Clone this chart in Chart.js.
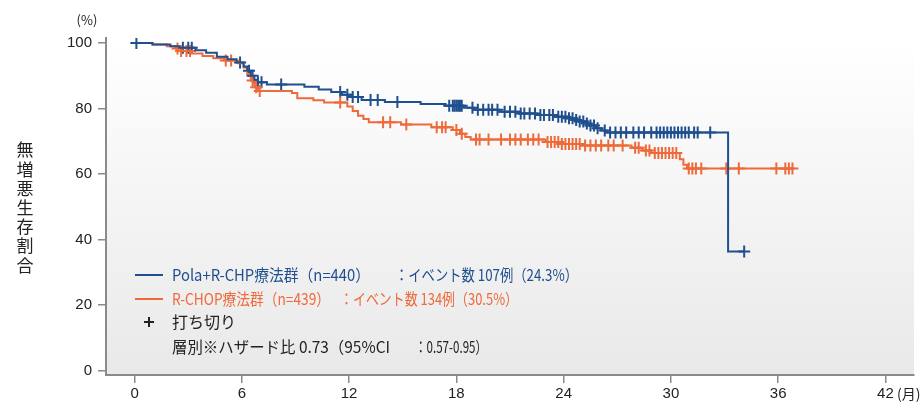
<!DOCTYPE html>
<html lang="ja">
<head>
<meta charset="utf-8">
<script src="https://cdn.jsdelivr.net/npm/chart.js@4.4.1/dist/chart.umd.min.js"></script>
<style>
  html, body { margin: 0; padding: 0; background: #fff; }
</style>
</head>
<body>
<canvas id="pfsChart" width="922" height="408"></canvas>
<script>
// Kaplan-Meier steps (months, % surviving)
const polaTimes = [0, 1.0, 2.0, 2.5, 3.4, 4.0, 4.6, 5.2, 5.7, 6.1, 6.3, 6.5, 6.7, 6.9, 7.4, 9.5, 10.3, 11.0, 11.6, 12.1, 12.7, 14.0, 16.0, 17.4, 18.4, 19.0, 20.4, 21.5, 22.5, 23.5, 24.2, 24.6, 24.9, 25.2, 25.5, 25.8, 26.1, 26.4, 33.2, 34.1];
const polaSurv  = [100, 99.5, 99.0, 98.5, 97.8, 97.0, 95.8, 95.0, 94.0, 92.8, 91.5, 90.0, 88.8, 88.0, 87.3, 86.6, 85.8, 85.0, 84.2, 83.5, 82.6, 82.0, 81.4, 80.8, 80.2, 79.6, 79.0, 78.5, 78.0, 77.5, 77.0, 76.5, 76.0, 75.4, 74.8, 74.0, 73.3, 72.7, 36.4, 36.4];
const polaCensor = [0.1, 2.7, 3.0, 3.2, 5.9, 6.4, 6.6, 6.9, 7.1, 8.2, 11.5, 11.9, 12.2, 12.5, 13.2, 13.6, 14.7, 17.6, 17.8, 17.9, 18.0, 18.1, 18.2, 18.3, 18.9, 19.2, 19.5, 19.8, 20.0, 20.3, 20.7, 21.0, 21.3, 21.6, 21.8, 22.1, 22.4, 22.7, 22.9, 23.2, 23.4, 23.7, 23.9, 24.1, 24.3, 24.5, 24.7, 24.9, 25.1, 25.3, 25.5, 25.7, 25.9, 26.3, 26.6, 26.9, 27.2, 27.5, 27.9, 28.2, 28.5, 28.9, 29.2, 29.4, 29.6, 29.8, 30.0, 30.2, 30.4, 30.6, 30.8, 31.0, 31.3, 31.5, 32.2, 34.1];

const rchopTimes = [0, 1.0, 1.8, 2.3, 2.6, 3.2, 3.8, 4.4, 5.0, 5.8, 6.1, 6.3, 6.5, 6.7, 6.9, 8.8, 9.1, 10.0, 10.6, 11.9, 12.2, 12.5, 12.8, 13.1, 14.9, 16.6, 17.8, 18.2, 18.5, 18.8, 23.0, 23.8, 25.0, 27.8, 28.4, 28.9, 30.5, 30.7, 30.9, 36.8];
const rchopSurv  = [100, 99.5, 99.0, 98.3, 97.5, 96.8, 96.0, 95.3, 94.6, 93.8, 92.5, 90.5, 88.5, 86.5, 85.3, 84.7, 83.1, 82.5, 81.8, 80.6, 79.2, 77.8, 76.8, 75.8, 75.1, 74.3, 73.4, 72.3, 71.3, 70.5, 69.8, 69.2, 68.7, 68.0, 67.2, 66.4, 64.5, 62.8, 61.7, 61.7];
const rchopCensor = [2.4, 2.6, 2.9, 3.1, 5.1, 5.4, 6.6, 6.8, 7.0, 11.5, 13.9, 14.3, 15.2, 16.9, 17.2, 17.4, 18.0, 18.3, 19.1, 19.3, 19.8, 20.5, 21.0, 21.3, 21.6, 22.0, 22.3, 22.6, 23.1, 23.3, 23.5, 23.7, 23.9, 24.1, 24.3, 24.5, 24.7, 24.9, 25.2, 25.5, 25.8, 26.1, 26.5, 26.8, 27.3, 28.0, 28.2, 28.6, 28.8, 29.1, 29.3, 29.5, 29.7, 29.9, 30.1, 30.3, 31.0, 31.2, 31.4, 31.7, 33.1, 33.8, 35.9, 36.4, 36.6, 36.8];

const xTicks = [0, 6, 12, 18, 24, 30, 36, 42];
const yTicks = [0, 20, 40, 60, 80, 100];
const yTitle = '無増悪生存割合';

const blue = '#1f4f8e';
const orange = '#ee6a3b';
const axisGray = '#8a8a8a';

function toPoints(times, surv) {
    return times.map((t, i) => ({ x: t, y: surv[i] }));
}

// height of the step curve at a censor time
function survAt(times, surv, t) {
    let s = surv[0];
    for (let i = 0; i < times.length; i++) {
        if (times[i] <= t) s = surv[i];
    }
    return s;
}

function censorPoints(censor, times, surv) {
    return censor.map(t => ({ x: t, y: survAt(times, surv, t) }));
}

const backgroundPlugin = {
    id: 'plotBackground',
    beforeDraw(chart) {
        const { ctx, chartArea } = chart;
        const g = ctx.createLinearGradient(0, chartArea.top, 0, chartArea.bottom);
        g.addColorStop(0, '#ffffff');
        g.addColorStop(1, '#e9e9e9');
        ctx.save();
        ctx.fillStyle = g;
        ctx.fillRect(chartArea.left, chartArea.top, chartArea.right - chartArea.left, chartArea.bottom - chartArea.top);
        ctx.restore();
    }
};

const textPlugin = {
    id: 'pfsText',
    afterDraw(chart) {
        const ctx = chart.ctx;
        const jp = '"Noto Sans CJK JP", "Noto Sans CJK SC", sans-serif';
        // narrow latin glyphs, CJK glyphs fall back to Noto
        const mixed = '"Liberation Sans Narrow", "Noto Sans CJK JP", sans-serif';
        ctx.save();

        // stacked vertical y title
        ctx.fillStyle = '#222';
        ctx.font = '17px ' + jp;
        ctx.textAlign = 'center';
        ctx.textBaseline = 'middle';
        Array.from(yTitle).forEach((ch, i) => ctx.fillText(ch, 25, 150 + i * 19.2));

        // units
        ctx.font = '13px ' + jp;
        ctx.fillText('(%)', 87, 20);
        ctx.font = '14px ' + jp;
        ctx.textAlign = 'left';
        ctx.fillText('(月)', 897, 394);

        // in-plot legend
        ctx.font = '16px ' + mixed;
        ctx.lineWidth = 2;
        const rows = [
            { y: 275, color: blue, a: 'Pola+R-CHP療法群（n=440）', aw: 198, bx: 395, b: '：イベント数 107例（24.3%）', bw: 183 },
            { y: 299, color: orange, a: 'R-CHOP療法群（n=439）', aw: 158, bx: 340, b: '：イベント数 134例（30.5%）', bw: 178 }
        ];
        rows.forEach(r => {
            ctx.strokeStyle = r.color;
            ctx.beginPath();
            ctx.moveTo(135, r.y);
            ctx.lineTo(163, r.y);
            ctx.stroke();
            ctx.fillStyle = r.color;
            ctx.fillText(r.a, 172, r.y, r.aw);
            ctx.fillText(r.b, r.bx, r.y, r.bw);
        });

        ctx.strokeStyle = '#222';
        ctx.beginPath();
        ctx.moveTo(144, 322); ctx.lineTo(154, 322);
        ctx.moveTo(149, 317); ctx.lineTo(149, 327);
        ctx.stroke();
        ctx.fillStyle = '#222';
        ctx.fillText('打ち切り', 172, 322);
        ctx.fillText('層別※ハザード比 0.73（95%CI', 172, 347, 218);
        ctx.fillText('：0.57-0.95）', 415, 347, 72);

        ctx.restore();
    }
};

const pfsData = {
    datasets: [
        {
            label: 'Pola+R-CHP',
            data: toPoints(polaTimes, polaSurv),
            borderColor: blue,
            borderWidth: 2,
            stepped: true,
            pointRadius: 0,
            fill: false
        },
        {
            label: 'R-CHOP',
            data: toPoints(rchopTimes, rchopSurv),
            borderColor: orange,
            borderWidth: 2,
            stepped: true,
            pointRadius: 0,
            fill: false
        },
        {
            label: 'R-CHOP censored',
            data: censorPoints(rchopCensor, rchopTimes, rchopSurv),
            showLine: false,
            pointStyle: 'cross',
            pointRadius: 6,
            pointBorderWidth: 2,
            pointBorderColor: orange
        },
        {
            label: 'Pola censored',
            data: censorPoints(polaCensor, polaTimes, polaSurv),
            showLine: false,
            pointStyle: 'cross',
            pointRadius: 6,
            pointBorderWidth: 2,
            pointBorderColor: blue
        }
    ]
};

const tickFont = { family: '"Liberation Sans", Arial, sans-serif', size: 15 };

new Chart(document.getElementById('pfsChart').getContext('2d'), {
    type: 'line',
    data: pfsData,
    plugins: [backgroundPlugin, textPlugin],
    options: {
        responsive: false,
        animation: false,
        layout: { padding: { top: 38, right: 7, left: 0, bottom: 0 } },
        plugins: {
            legend: { display: false },
            tooltip: { enabled: false }
        },
        scales: {
            x: {
                type: 'linear',
                min: -1.6,
                max: 43.6,
                afterBuildTicks: s => { s.ticks = xTicks.map(v => ({ value: v })); },
                afterFit: s => { s.height = 33; },
                border: { display: true, color: axisGray, width: 2 },
                grid: { drawOnChartArea: false, drawTicks: true, tickLength: 8, color: axisGray, lineWidth: 1.5 },
                ticks: { color: '#222', font: tickFont, padding: 2, maxRotation: 0 }
            },
            y: {
                type: 'linear',
                min: -1.3,
                max: 101.5,
                afterBuildTicks: s => { s.ticks = yTicks.map(v => ({ value: v })); },
                afterFit: s => { s.width = 106; },
                border: { display: true, color: axisGray, width: 2 },
                grid: { drawOnChartArea: false, drawTicks: true, tickLength: 8, color: axisGray, lineWidth: 1.5 },
                ticks: { color: '#222', font: tickFont, padding: 6 }
            }
        }
    }
});
</script>
</body>
</html>
